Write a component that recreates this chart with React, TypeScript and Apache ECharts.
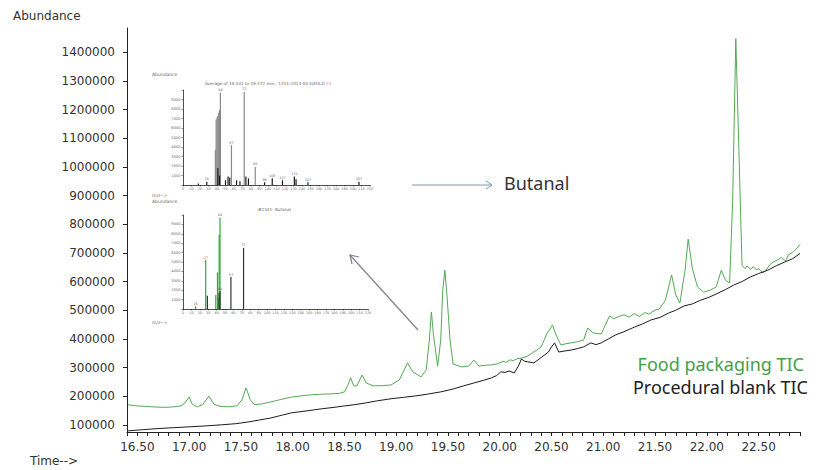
import React, { useEffect, useRef } from "react";
import * as echarts from "echarts";

// ---- Main chromatogram data (retention time in min, abundance) ----
const greenTime = [16.41,16.5,16.64,16.75,16.83,16.92,16.95,17.0,17.03,17.08,17.13,17.19,17.24,17.3,17.38,17.46,17.51,17.55,17.59,17.63,17.7,17.79,17.88,17.99,18.08,18.18,18.28,18.37,18.45,18.5,18.53,18.56,18.59,18.62,18.67,18.71,18.78,18.87,18.95,19.03,19.11,19.16,19.24,19.29,19.32,19.34,19.36,19.4,19.43,19.45,19.47,19.49,19.52,19.55,19.63,19.7,19.75,19.8,19.86,19.92,19.99,20.03,20.06,20.1,20.13,20.17,20.21,20.27,20.33,20.4,20.46,20.51,20.54,20.59,20.64,20.69,20.75,20.81,20.85,20.9,20.98,21.02,21.06,21.1,21.15,21.2,21.25,21.3,21.35,21.4,21.44,21.49,21.54,21.6,21.66,21.7,21.74,21.79,21.82,21.86,21.91,21.97,22.03,22.09,22.14,22.18,22.22,22.25,22.28,22.31,22.34,22.37,22.39,22.42,22.45,22.48,22.5,22.54,22.57,22.61,22.64,22.68,22.72,22.76,22.79,22.83,22.86,22.9];
const greenAbund = [170000,166000,163000,161000,162000,166000,173000,197000,172000,163000,170000,200000,172000,164000,163000,166000,187000,229000,188000,170000,173000,180000,188000,197000,201000,205000,207000,208000,210000,215000,236000,264000,236000,236000,274000,246000,236000,237000,239000,257000,316000,285000,267000,292000,396000,494000,414000,305000,396000,570000,640000,553000,396000,312000,302000,305000,326000,305000,308000,309000,314000,322000,318000,327000,324000,331000,333000,340000,354000,372000,421000,448000,417000,379000,383000,386000,390000,396000,438000,421000,417000,448000,480000,470000,478000,484000,476000,488000,478000,492000,486000,499000,504000,535000,623000,553000,525000,640000,748000,647000,581000,563000,570000,581000,640000,605000,595000,884000,1448000,1058000,657000,645000,655000,643000,652000,640000,645000,630000,638000,660000,668000,675000,684000,672000,694000,702000,712000,730000];

const blankTime = [16.41,16.55,16.7,16.85,17.0,17.15,17.31,17.45,17.57,17.68,17.79,17.9,17.99,18.1,18.2,18.28,18.4,18.5,18.59,18.7,18.82,18.95,19.07,19.19,19.3,19.43,19.55,19.65,19.75,19.84,19.92,19.97,20.01,20.05,20.09,20.14,20.18,20.21,20.24,20.27,20.33,20.4,20.47,20.5,20.53,20.57,20.63,20.69,20.75,20.81,20.88,20.93,20.98,21.05,21.12,21.2,21.3,21.38,21.46,21.55,21.63,21.7,21.78,21.86,21.94,22.02,22.11,22.18,22.26,22.34,22.42,22.5,22.59,22.67,22.75,22.83,22.9];
const blankAbund = [79000,83000,87000,90000,93000,96000,100000,104000,110000,117000,124000,134000,142000,147000,152000,156000,161000,166000,170000,176000,184000,191000,196000,201000,207000,215000,225000,236000,246000,255000,264000,272000,285000,283000,288000,281000,305000,330000,322000,320000,316000,335000,354000,372000,386000,354000,358000,361000,366000,372000,386000,380000,386000,400000,414000,425000,441000,452000,466000,475000,490000,500000,515000,522000,535000,545000,560000,572000,588000,600000,616000,628000,640000,655000,668000,680000,698000];

const xTickLabels = ["16.50","17.00","17.50","18.00","18.50","19.00","19.50","20.00","20.50","21.00","21.50","22.00","22.50"];
const yTickValues = [100000,200000,300000,400000,500000,600000,700000,800000,900000,1000000,1100000,1200000,1300000,1400000];

// ---- Inset mass spectra (m/z, abundance) ----
const topGrayMz = [38,39,40,41,42,43,44,57,72,85];
const topGrayAbund = [3700,6900,7100,7300,7600,7900,9700,4200,9800,1900];
const topDarkMz = [18,28,41,43,50,53,55,63,67,74,77,96,105,117,131,133,147,207];
const topDarkAbund = [150,350,1800,1000,500,900,800,500,400,900,700,300,700,500,900,600,300,350];
const topLabeled = [28,44,57,72,85,96,105,117,131,147,207];

const botGreenMz = [15,27,39,41,42,43,44];
const botGreenAbund = [300,5200,1500,3900,1200,7900,9700];
const botDarkMz = [29,43,44,57,72];
const botDarkAbund = [1400,1700,1900,3400,6500];
const botLabeled = [15,27,44,57,72];

const topTitle = "Average of 19.331 to 19.372 min.: 1311-2013-04-DATA.D (-)";
const botTitle = "#2341: Butanal";

export default function App() {
  const ref = useRef<HTMLDivElement>(null);
  useEffect(() => {
    if (!ref.current) return;
    const chart = echarts.init(ref.current, undefined, { renderer: "svg" });
    const mainFont = "DejaVu Sans";
    const tiny = { fontFamily: "DejaVu Sans", color: "#666" };
    const insetX = (gi: number) => ({
      gridIndex: gi, type: "value", min: 0, max: 220, interval: 10,
      axisLine: { lineStyle: { color: "#222", width: 0.8 } },
      axisTick: { length: 1.5, lineStyle: { color: "#222", width: 0.5 } },
      minorTick: { show: true, splitNumber: 2, length: 1, lineStyle: { color: "#444", width: 0.4 } },
      axisLabel: { ...tiny, fontSize: 3.4, margin: 2 },
      splitLine: { show: false },
    });
    const insetY = (gi: number) => ({
      gridIndex: gi, type: "value", min: 0, max: 10000, interval: 1000,
      axisLine: { show: true, lineStyle: { color: "#222", width: 0.8 } },
      axisTick: { show: true, length: 1.5, lineStyle: { color: "#222", width: 0.5 } },
      axisLabel: { ...tiny, fontSize: 3.6, margin: 2.5,
        formatter: (v: number) => (v === 0 || v === 10000 ? "" : String(v)) },
      splitLine: { show: false },
    });
    const barLabel = (list: number[]) => ({
      show: true, position: "top", distance: 1, fontSize: 3.4, color: "#666", fontFamily: "DejaVu Sans",
      formatter: (p: any) => (list.includes(p.value[0]) ? String(p.value[0]) : ""),
    });

    chart.setOption({
      animation: false,
      backgroundColor: "#ffffff",
      grid: [
        { left: 127, right: 19, top: 28, bottom: 38 },
        { left: 183, top: 90, width: 187, height: 95 },
        { left: 183, top: 215, width: 185, height: 94 },
      ],
      xAxis: [
        {
          gridIndex: 0, type: "value", min: 16.4, max: 22.9, interval: 0.1,
          axisLine: { lineStyle: { color: "#222", width: 1 } },
          axisTick: { length: 4, lineStyle: { color: "#222", width: 1 } },
          axisLabel: {
            fontFamily: mainFont, fontSize: 12, color: "#333", margin: 9,
            formatter: (v: number) => (xTickLabels.includes(v.toFixed(2)) ? v.toFixed(2) : ""),
          },
          splitLine: { show: false },
        },
        insetX(1),
        insetX(2),
      ],
      yAxis: [
        {
          gridIndex: 0, type: "value", min: 75000, max: 1485000,
          axisLine: { show: true, lineStyle: { color: "#222", width: 1 } },
          axisTick: { show: true, length: 4, customValues: yTickValues, lineStyle: { color: "#222", width: 1 } },
          axisLabel: {
            fontFamily: mainFont, fontSize: 12, color: "#333", margin: 12, customValues: yTickValues,
            formatter: (v: number) => String(Math.round(v)),
          },
          splitLine: { show: false },
        },
        insetY(1),
        insetY(2),
      ],
      series: [
        {
          name: "Food packaging TIC", type: "line", xAxisIndex: 0, yAxisIndex: 0,
          data: greenTime.map((t, i) => [t, greenAbund[i]]),
          showSymbol: false, symbol: "none", lineStyle: { color: "#55a855", width: 1 }, z: 2,
        },
        {
          name: "Procedural blank TIC", type: "line", xAxisIndex: 0, yAxisIndex: 0,
          data: blankTime.map((t, i) => [t, blankAbund[i]]),
          showSymbol: false, symbol: "none", lineStyle: { color: "#1c1c1c", width: 1 }, z: 3,
        },
        {
          type: "bar", xAxisIndex: 1, yAxisIndex: 1, barWidth: 1.2, barGap: "-100%",
          data: topGrayMz.map((m, i) => [m, topGrayAbund[i]]),
          itemStyle: { color: "#8a8a8a" }, label: barLabel(topLabeled),
        },
        {
          type: "bar", xAxisIndex: 1, yAxisIndex: 1, barWidth: 1.2, barGap: "-100%",
          data: topDarkMz.map((m, i) => [m, topDarkAbund[i]]),
          itemStyle: { color: "#1a1a1a" }, label: barLabel(topLabeled),
        },
        {
          type: "bar", xAxisIndex: 2, yAxisIndex: 2, barWidth: 1.2, barGap: "-100%",
          data: botGreenMz.map((m, i) => [m, botGreenAbund[i]]),
          itemStyle: { color: "#2fa83a" }, label: barLabel(botLabeled),
        },
        {
          type: "bar", xAxisIndex: 2, yAxisIndex: 2, barWidth: 1.2, barGap: "-100%",
          data: botDarkMz.map((m, i) => [m, botDarkAbund[i]]),
          itemStyle: { color: "#2c3a2c" }, label: barLabel(botLabeled),
        },
      ],
      graphic: [
        { type: "text", left: 13, top: 10, style: { text: "Abundance", fontFamily: mainFont, fontSize: 12, fill: "#333" } },
        { type: "text", left: 30, top: 455, style: { text: "Time-->", fontFamily: mainFont, fontSize: 12, fill: "#333" } },
        // inset captions
        { type: "text", left: 152, top: 72, style: { text: "Abundance", fontFamily: mainFont, fontSize: 4.5, fill: "#666" } },
        { type: "text", left: 205, top: 81, style: { text: topTitle, fontFamily: mainFont, fontSize: 4.2, fill: "#666" } },
        { type: "text", left: 152, top: 193, style: { text: "m/z-->", fontFamily: mainFont, fontSize: 4.5, fill: "#666" } },
        { type: "text", left: 152, top: 198.5, style: { text: "Abundance", fontFamily: mainFont, fontSize: 4.5, fill: "#666" } },
        { type: "text", left: 258, top: 207, style: { text: botTitle, fontFamily: mainFont, fontSize: 4.2, fill: "#666" } },
        { type: "text", left: 152, top: 320, style: { text: "m/z-->", fontFamily: mainFont, fontSize: 4.5, fill: "#666" } },
        // Butanal arrow
        { type: "line", shape: { x1: 412, y1: 185, x2: 492, y2: 185 }, style: { stroke: "#7f98ad", lineWidth: 1 } },
        { type: "polyline", shape: { points: [[486, 181], [492, 185], [486, 189]] }, style: { stroke: "#7f98ad", lineWidth: 1, fill: null } },
        { type: "text", left: 504, top: 174, style: { text: "Butanal", fontFamily: "Noto Sans", fontSize: 18, fill: "#333" } },
        // diagonal arrow to library spectrum
        { type: "line", shape: { x1: 418, y1: 330, x2: 350, y2: 255 }, style: { stroke: "#80808f", lineWidth: 1.2 } },
        { type: "polyline", shape: { points: [[359, 257], [350, 255], [352, 264]] }, style: { stroke: "#80808f", lineWidth: 1.2, fill: null } },
        // legend texts
        { type: "text", right: 15, top: 355, style: { text: "Food packaging TIC", fontFamily: "Noto Sans", fontSize: 18, fill: "#46a049", align: "right" } },
        { type: "text", right: 11, top: 378, style: { text: "Procedural blank TIC", fontFamily: "Noto Sans", fontSize: 18, fill: "#222", align: "right" } },
      ],
    });
    return () => chart.dispose();
  }, []);
  return <div ref={ref} style={{ position: "fixed", left: 0, top: 0, width: 819, height: 470 }} />;
}
